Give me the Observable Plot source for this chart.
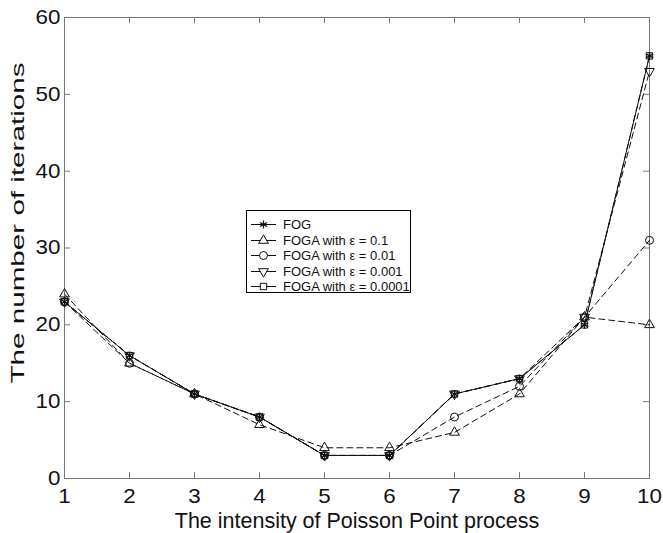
<!DOCTYPE html>
<html><head><meta charset="utf-8">
<script src="https://cdn.jsdelivr.net/npm/d3@7"></script>
<script src="https://cdn.jsdelivr.net/npm/@observablehq/plot@0.6"></script>
<style>
body{margin:0;background:#fff;font-family:"Liberation Sans",Arial,sans-serif;}
#wrap{position:relative;width:663px;height:533px;}
#legend{position:absolute;left:246px;top:210px;width:165px;height:83px;border:1px solid #000;background:#fff;box-sizing:border-box;}
.row{position:absolute;left:0;height:15px;display:flex;align-items:center;font-size:13px;color:#111;white-space:nowrap;}
.row svg{display:block;}
</style></head><body><div id="wrap"></div>
<script>
const xValues = [1, 2, 3, 4, 5, 6, 7, 8, 9, 10];
const seriesNames = ["FOG", "FOGA with ε = 0.1", "FOGA with ε = 0.01", "FOGA with ε = 0.001", "FOGA with ε = 0.0001"];
const fog       = [23, 16, 11, 8, 3, 3, 11, 13, 20, 55];
const foga01    = [24, 15, 11, 7, 4, 4, 6, 11, 21, 20];
const foga001   = [23, 15, 11, 8, 3, 3, 8, 12, 21, 31];
const foga0001  = [23, 16, 11, 8, 3, 3, 11, 13, 21, 53];
const foga00001 = [23, 16, 11, 8, 3, 3, 11, 13, 20, 55];
const xTicks = [1, 2, 3, 4, 5, 6, 7, 8, 9, 10];
const yTicks = [0, 10, 20, 30, 40, 50, 60];
const xLabel = "The intensity of Poisson Point process";
const yLabel = "The number of iterations";

const seriesValues = [fog, foga01, foga001, foga0001, foga00001];
const styles = [
  {symbol: "asterisk", rotate: 0, dash: null, r: 3.8, sw: 1.3},
  {symbol: "triangle", rotate: 0, dash: "6,4", r: 3.6, sw: 1},
  {symbol: "circle", rotate: 0, dash: "6,4", r: 4, sw: 1},
  {symbol: "triangle", rotate: 180, dash: "6,4", r: 3.6, sw: 1},
  {symbol: "square", rotate: 0, dash: "6,4", r: 3.6, sw: 1}
];
const ink = "#111";
const frameGray = "#777";

const W = 663, H = 533, mL = 64, mR = 14, mT = 17, mB = 55;
const innerW = W - mL - mR, innerH = H - mT - mB, tl = 6;

const marks = [];
seriesValues.forEach((vals, i) => {
  const rows = xValues.map((x, j) => ({x, y: vals[j]}));
  marks.push(Plot.line(rows, {x: "x", y: "y", stroke: ink, strokeWidth: 1, strokeDasharray: styles[i].dash}));
});
seriesValues.forEach((vals, i) => {
  const rows = xValues.map((x, j) => ({x, y: vals[j]}));
  const st = styles[i];
  marks.push(Plot.dot(rows, {x: "x", y: "y", symbol: st.symbol, r: st.r, rotate: st.rotate, stroke: ink, strokeWidth: st.sw, fill: "none"}));
});

const chart = Plot.plot({
  width: W, height: H,
  marginLeft: mL, marginRight: mR, marginTop: mT, marginBottom: mB,
  style: {fontFamily: "'Liberation Sans', Arial, sans-serif", color: ink, background: "#fff"},
  x: {domain: [1, 10]},
  y: {domain: [0, 60]},
  marks: [
    Plot.axisX({ticks: xTicks, anchor: "bottom", tickSize: 0, tickPadding: 10, fontSize: 20, label: null, tickFormat: d => String(d)}),
    Plot.axisY({ticks: yTicks, anchor: "left", tickSize: 0, tickPadding: 4, fontSize: 20, label: null, tickFormat: d => String(d)}),
    // inward ticks on all four sides
    Plot.tickX(xTicks, {x: d => d, insetTop: innerH - tl, stroke: frameGray}),
    Plot.tickX(xTicks, {x: d => d, insetBottom: innerH - tl, stroke: frameGray}),
    Plot.tickY(yTicks, {y: d => d, insetRight: innerW - tl, stroke: frameGray}),
    Plot.tickY(yTicks, {y: d => d, insetLeft: innerW - tl, stroke: frameGray}),
    Plot.frame({stroke: frameGray}),
    ...marks,
    Plot.text([xLabel], {text: d => d, frameAnchor: "bottom", dy: 43, textAnchor: "middle", lineAnchor: "middle", fontSize: 21.5, fill: ink}),
    Plot.text([yLabel], {text: d => d, frameAnchor: "left", dx: -46, dy: -25, rotate: -90, textAnchor: "middle", lineAnchor: "middle", fontSize: 18.5, fill: ink})
  ]
});
document.getElementById("wrap").appendChild(chart);
// the reference's y label is drawn elongated along its length
d3.select(chart).selectAll("text").filter(function(){ return this.textContent === yLabel; })
  .each(function(){
    const el = d3.select(this);
    const k = 321 / this.getComputedTextLength();
    el.attr("transform", (el.attr("transform") || "") + ` scale(${k},1)`);
  });
// tick digits in the reference are slightly wide
d3.select(chart).selectAll("g[aria-label='x-axis tick label'] text, g[aria-label='y-axis tick label'] text")
  .each(function(){
    const el = d3.select(this);
    el.attr("transform", (el.attr("transform") || "") + " scale(1.12,1)");
  });

// legend
const legend = document.createElement("div");
legend.id = "legend";
const symMap = {asterisk: d3.symbolAsterisk, triangle: d3.symbolTriangle, circle: d3.symbolCircle, square: d3.symbolSquare};
seriesNames.forEach((name, i) => {
  const st = styles[i];
  const row = document.createElement("div");
  row.className = "row";
  row.style.top = (6 + i * 15.6) + "px";
  const s = d3.create("svg").attr("width", 36).attr("height", 15);
  s.append("line").attr("x1", 4).attr("x2", 29).attr("y1", 7.5).attr("y2", 7.5).attr("stroke", ink).attr("stroke-width", 1);
  s.append("path").attr("d", d3.symbol(symMap[st.symbol], Math.PI * st.r * st.r)())
    .attr("transform", `translate(16.5,7.5) rotate(${st.rotate})`)
    .attr("fill", st.symbol === "asterisk" ? "none" : "#fff").attr("stroke", ink).attr("stroke-width", st.sw);
  row.appendChild(s.node());
  const t = document.createElement("span");
  t.textContent = name;
  row.appendChild(t);
  legend.appendChild(row);
});
document.getElementById("wrap").appendChild(legend);
</script></body></html>
